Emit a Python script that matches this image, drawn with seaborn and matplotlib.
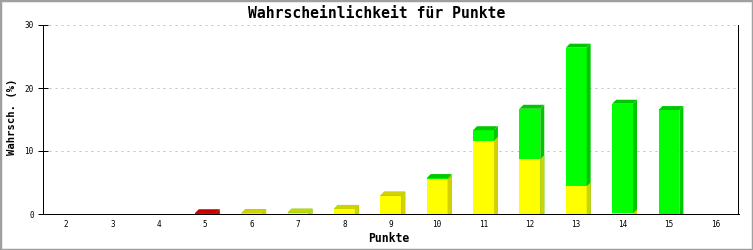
import matplotlib
matplotlib.use("Agg")
import matplotlib.pyplot as plt
from matplotlib.patches import Polygon, Rectangle
import seaborn as sns
import pandas as pd
import numpy as np

# ---- data ----
punkte = ["2", "3", "4", "5", "6", "7", "8", "9", "10", "11", "12", "13", "14", "15", "16"]
red = [0, 0, 0, 0.1, 0, 0, 0, 0, 0, 0, 0, 0, 0, 0, 0]
yellow = [0, 0, 0, 0, 0.1, 0.2, 0.8, 2.9, 5.5, 11.6, 8.7, 4.4, 0.1, 0, 0]
green = [0, 0, 0, 0, 0, 0, 0, 0, 0.2, 1.7, 8.0, 22.0, 17.4, 16.5, 0]
yticks = [0, 10, 20, 30]

title = "Wahrscheinlichkeit für Punkte"
xlabel = "Punkte"
ylabel = "Wahrsch. (%)"

# colours: (front, shade)
c_red = ("#ff0000", "#c80000")
c_yellow = ("#ffff00", "#d2d200")
c_green = ("#00ff00", "#00c800")

W, H = 753, 250
fig = plt.figure(figsize=(W / 100, H / 100), dpi=100)
fig.patch.set_facecolor("white")
L, R, T, B = 43, 738.5, 25, 214
ax = fig.add_axes([L / W, 1 - B / H, (R - L) / W, (B - T) / H])

df = pd.DataFrame({"Punkte": punkte,
                   "red": red, "yellow": yellow, "green": green})
df["c_yellow"] = df["red"] + df["yellow"]
df["c_green"] = df["c_yellow"] + df["green"]

bw = 0.45
layers = [("c_green", c_green, None),
          ("c_yellow", c_yellow, "green"),
          ("red", c_red, "yellow")]

ax.set_xlim(-0.5, len(punkte) - 0.5)
ax.set_ylim(0, 30)

px_x = (R - L) / len(punkte)   # px per category unit
px_y = (B - T) / 30.0          # px per value unit
dx = 4 / px_x
dy = 4 / px_y

for col, (front, shade), above in layers:
    n_before = len(ax.patches)
    sns.barplot(data=df, x="Punkte", y=col, order=punkte, color=front,
                saturation=1, width=bw, ax=ax, linewidth=0, zorder=3,
                errorbar=None)
    new = ax.patches[n_before:]
    for i, p in enumerate(new):
        h = p.get_height()
        if h <= 0:
            continue
        x0 = p.get_x()
        x1 = x0 + p.get_width()
        y0 = p.get_y()
        y1 = y0 + h
        # side face
        ax.add_patch(Polygon([(x1, y0), (x1, y1), (x1 + dx, y1 + dy), (x1 + dx, y0 + dy * 0)],
                             closed=True, facecolor=shade, edgecolor="none", zorder=3))
        has_above = above is not None and df[above].iloc[i] > 0
        if col == "red":
            has_above = df["yellow"].iloc[i] > 0 or df["green"].iloc[i] > 0
        if col == "c_yellow":
            has_above = df["green"].iloc[i] > 0
        if not has_above:
            ax.add_patch(Polygon([(x0, y1), (x1, y1), (x1 + dx, y1 + dy), (x0 + dx, y1 + dy)],
                                 closed=True, facecolor=shade, edgecolor="none", zorder=3))

ax.set_xlim(-0.5, len(punkte) - 0.5)
ax.set_ylim(0, 30)

# grid
ax.set_yticks(yticks)
ax.yaxis.grid(True, color="#c0c0c0", linewidth=0.72, linestyle=(0, (2, 4)), zorder=0)
ax.xaxis.grid(False)
ax.set_axisbelow(True)

for s in ["left", "bottom", "right"]:
    ax.spines[s].set_color("black")
    ax.spines[s].set_linewidth(0.72)
    ax.spines[s].set_zorder(5)
ax.spines["top"].set_visible(False)

mono = "DejaVu Sans Mono"
ax.tick_params(axis="y", direction="inout", length=6.5, width=0.72, pad=3.5,
               labelsize=5.5, colors="black")
ax.tick_params(axis="x", length=0, pad=4.5, labelsize=5.5, colors="black")
for lab in ax.get_xticklabels() + ax.get_yticklabels():
    lab.set_family(mono)

ax.set_xlabel("")
ax.set_ylabel("")
fig.text(389 / W, 1 - 239 / H, xlabel, ha="center", va="center",
         family=mono, fontweight="bold", fontsize=8.3)
fig.text(12 / W, 1 - 117 / H, ylabel, ha="center", va="center", rotation=90,
         family=mono, fontweight="bold", fontsize=7.6)
fig.text(377 / W, 1 - 13 / H, title, ha="center", va="center",
         family=mono, fontweight="bold", fontsize=10.6)

# outer frame
fig.patches.append(Rectangle((0, 0), 1, 1, transform=fig.transFigure,
                             facecolor="none", edgecolor="#a0a0a0",
                             linewidth=2.5, zorder=10))

fig.savefig("out.png", dpi=100, facecolor="white")
